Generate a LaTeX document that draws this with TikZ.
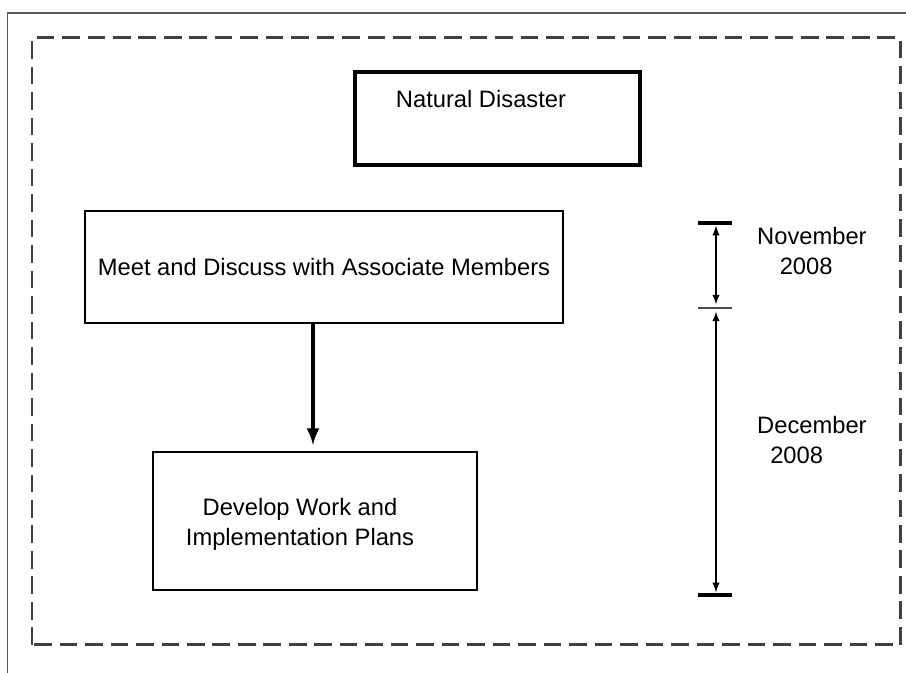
\documentclass[tikz,border=0pt]{standalone}
\usepackage{fontspec}
\setmainfont{Liberation Sans}
\begin{document}
\begin{tikzpicture}[font=\fontsize{13.5}{17}\selectfont]
        \useasboundingbox (0,0) rectangle (18.12,13.46);

        % frames
        \draw[gray!70!black,line width=1pt] (0.15,0) -- (0.15,13.2) -- (18.12,13.2);
        \draw[black!75,line width=1.7pt,dash pattern=on 10pt off 4.5pt] (0.64,0.56) rectangle (18.0,12.7);

        \node[draw, line width=2.4pt, minimum width=5.7cm, minimum height=1.86cm] (disaster) at (9.95,11.09) {};
        \node (disastertxt) at (9.62,11.48) {Natural Disaster};
        \node[draw, line width=0.8pt, minimum width=9.56cm, minimum height=2.24cm] (meet) at (6.48,8.12) {Meet and Discuss with Associate Members};
        \node[draw, line width=0.8pt, minimum width=6.48cm, minimum height=2.76cm] (plans) at (6.3,3.04) {};
        \node[align=center] (planstxt) at (6.0,2.98) {Develop Work and\\Implementation Plans};

        \path[draw,line width=2.2pt,->,>=latex] (6.26,7.0) -- (6.26,4.56);

        % timeline
        \coordinate (t1) at (14.32,9.0);
        \coordinate (t2) at (14.32,7.3);
        \coordinate (t3) at (14.32,1.56);
        \draw[line width=2.4pt] ([xshift=-0.36cm]t1) -- ([xshift=0.32cm]t1);
        \draw[black!70,line width=1.6pt] ([xshift=-0.36cm]t2) -- ([xshift=0.32cm]t2);
        \draw[line width=2.4pt] ([xshift=-0.36cm]t3) -- ([xshift=0.32cm]t3);
        \path[draw,<->,>=latex,line width=0.9pt,shorten <=1.5pt,shorten >=2pt] (t1) -- (t2);
        \path[draw,<->,>=latex,line width=0.9pt,shorten <=2pt,shorten >=1.5pt] (t2) -- (t3);
        \node[anchor=west,align=left] (nov) at (15.02,8.44) {November\\\hspace*{0.95em}2008};
        \node[anchor=west,align=left] (dec) at (15.02,4.66) {December\\\hspace*{0.55em}2008};
\end{tikzpicture}
\end{document}
